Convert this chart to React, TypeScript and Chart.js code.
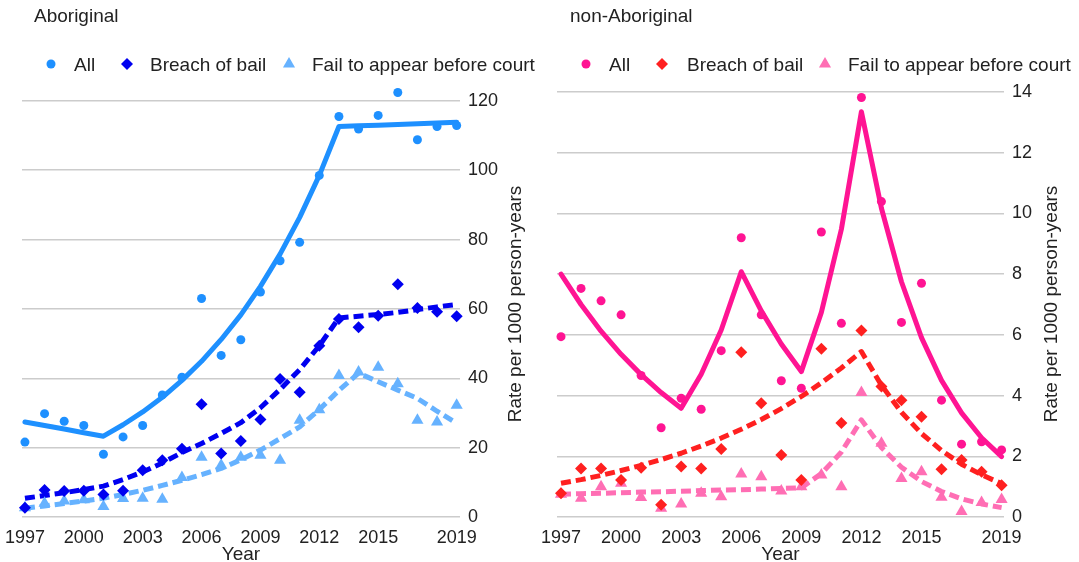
import React, { useEffect, useRef } from 'react';
import { Chart, registerables } from 'chart.js';

Chart.register(...registerables);

const YEARS = [1997, 1998, 1999, 2000, 2001, 2002, 2003, 2004, 2005, 2006, 2007, 2008, 2009, 2010, 2011, 2012, 2013, 2014, 2015, 2016, 2017, 2018, 2019];
const X_TICKS = [1997, 2000, 2003, 2006, 2009, 2012, 2015, 2019];
const LEGEND_LABELS = ['All', 'Breach of bail', 'Fail to appear before court'];
const Y_TITLE = 'Rate per 1000 person-years';
const X_TITLE = 'Year';

// Aboriginal
const ABO_Y_TICKS = [0, 20, 40, 60, 80, 100, 120];
const ABO_ALL = [21.6, 29.8, 27.6, 26.4, 18.1, 23.1, 26.4, 35.2, 40.3, 63.0, 46.6, 51.1, 64.9, 73.9, 79.2, 98.5, 115.5, 111.9, 115.8, 122.4, 108.8, 112.6, 112.9];
const ABO_BREACH = [2.7, 7.8, 7.5, 7.6, 6.5, 7.6, 13.5, 16.4, 19.7, 32.5, 18.3, 21.9, 28.1, 39.8, 36.0, 49.4, 57.1, 54.7, 58.0, 67.1, 60.3, 59.2, 57.9];
const ABO_FAIL = [2.7, 4.0, 4.6, 5.0, 3.0, 5.3, 5.4, 5.1, 11.4, 17.2, 14.9, 17.2, 17.8, 16.4, 27.9, 30.9, 40.8, 41.8, 43.2, 38.4, 27.9, 27.4, 32.2];
const ABO_ALL_TREND = [27.4, 26.4, 25.4, 24.3, 23.3, 26.6, 30.3, 34.5, 39.4, 44.9, 51.2, 58.3, 66.5, 75.8, 86.4, 98.5, 112.6, 112.8, 113.0, 113.2, 113.4, 113.6, 113.8];
const ABO_BREACH_TREND = [5.4, 6.2, 7.0, 7.9, 8.9, 10.8, 13.0, 15.6, 18.6, 21.2, 24.1, 27.2, 31.5, 36.8, 42.5, 49.4, 57.4, 57.9, 58.4, 59.0, 59.8, 60.6, 61.3];
const ABO_FAIL_TREND = [2.5, 3.2, 3.9, 4.6, 5.4, 6.5, 7.7, 9.1, 10.6, 12.2, 14.0, 16.5, 19.3, 22.6, 26.0, 31.0, 36.5, 41.5, 39.0, 36.6, 34.2, 30.5, 27.0];

// non-Aboriginal
const NON_Y_TICKS = [0, 2, 4, 6, 8, 10, 12, 14];
const NON_ALL = [5.94, 7.53, 7.12, 6.66, 4.66, 2.94, 3.91, 3.55, 5.48, 9.2, 6.66, 4.49, 4.24, 9.39, 6.38, 13.82, 10.39, 6.41, 7.7, 3.85, 2.4, 2.48, 2.21];
const NON_BREACH = [0.78, 1.6, 1.6, 1.22, 1.62, 0.4, 1.66, 1.6, 2.24, 5.43, 3.75, 2.04, 1.22, 5.54, 3.1, 6.14, 4.3, 3.85, 3.3, 1.57, 1.88, 1.49, 1.05];
const NON_FAIL = [0.75, 0.62, 1.0, 1.11, 0.64, 0.29, 0.43, 0.78, 0.67, 1.42, 1.33, 0.86, 1.0, 1.38, 1.0, 4.1, 2.43, 1.27, 1.49, 0.65, 0.18, 0.48, 0.58];
const NON_ALL_TREND = [8.0, 7.0, 6.12, 5.36, 4.69, 4.1, 3.58, 4.7, 6.16, 8.08, 6.79, 5.7, 4.79, 6.74, 9.48, 13.35, 10.17, 7.75, 5.91, 4.5, 3.43, 2.61, 1.99];
const NON_BREACH_TREND = [1.11, 1.23, 1.37, 1.53, 1.7, 1.89, 2.1, 2.34, 2.6, 2.89, 3.21, 3.57, 3.97, 4.42, 4.91, 5.45, 4.34, 3.45, 2.75, 2.19, 1.74, 1.39, 1.1];
const NON_FAIL_TREND = [0.75, 0.77, 0.78, 0.8, 0.82, 0.83, 0.85, 0.87, 0.89, 0.9, 0.92, 0.94, 0.96, 1.43, 2.14, 3.2, 2.29, 1.64, 1.17, 0.84, 0.6, 0.43, 0.31];

const FONT = "Arial, 'Liberation Sans', sans-serif";
const TEXT = '#222222';
const GRID = '#cccccc';
const STYLES = ['circle', 'rectRot', 'triangle'];
const RADII = [4.5, 6, 7];

type PanelCfg = {
  title: string;
  left: number;
  width: number;
  colors: string[];
  series: number[][];
  trends: number[][];
  yTicks: number[];
  yMax: number;
  xMin: number;
  xMax: number;
  pad: { left: number; top: number };
  yAxisWidth: number;
  titleX: number;
  legend: number[][];
  yTitleX: number;
};

const PANELS: PanelCfg[] = [
  {
    title: 'Aboriginal',
    left: 0,
    width: 540,
    colors: ['#1E90FF', '#0000F0', '#66B2FF'],
    series: [ABO_ALL, ABO_BREACH, ABO_FAIL],
    trends: [ABO_ALL_TREND, ABO_BREACH_TREND, ABO_FAIL_TREND],
    yTicks: ABO_Y_TICKS,
    yMax: 124,
    xMin: 1996.85,
    xMax: 2019.17,
    pad: { left: 22, top: 87 },
    yAxisWidth: 80,
    titleX: 34,
    legend: [[51, 74], [127, 150], [289, 312]],
    yTitleX: 521,
  },
  {
    title: 'non-Aboriginal',
    left: 540,
    width: 539,
    colors: ['#FF1493', '#FF2020', '#FF6EB4'],
    series: [NON_ALL, NON_BREACH, NON_FAIL],
    trends: [NON_ALL_TREND, NON_BREACH_TREND, NON_FAIL_TREND],
    yTicks: NON_Y_TICKS,
    yMax: 14,
    xMin: 1996.8,
    xMax: 2019.12,
    pad: { left: 17, top: 92 },
    yAxisWidth: 75,
    titleX: 30,
    legend: [[46, 69], [122, 147], [285, 308]],
    yTitleX: 517,
  },
];

function drawMarker(ctx: CanvasRenderingContext2D, style: string, x: number, y: number, r: number, color: string) {
  ctx.fillStyle = color;
  ctx.beginPath();
  if (style === 'circle') {
    ctx.arc(x, y, r, 0, Math.PI * 2);
  } else if (style === 'rectRot') {
    ctx.moveTo(x, y - r);
    ctx.lineTo(x + r, y);
    ctx.lineTo(x, y + r);
    ctx.lineTo(x - r, y);
    ctx.closePath();
  } else {
    const h = r * 1.5;
    const w = r * Math.sqrt(3) / 2;
    ctx.moveTo(x, y - r);
    ctx.lineTo(x + w, y - r + h);
    ctx.lineTo(x - w, y - r + h);
    ctx.closePath();
  }
  ctx.fill();
}

function Panel({ cfg }: { cfg: PanelCfg }) {
  const ref = useRef<HTMLCanvasElement>(null);
  useEffect(() => {
    const canvas = ref.current;
    if (!canvas) return;
    const toXY = (arr: number[]) => YEARS.map((yr, i) => ({ x: yr, y: arr[i] }));
    const pointSets = cfg.series.map((s, i) => ({
      label: LEGEND_LABELS[i],
      data: toXY(s),
      showLine: false,
      pointStyle: STYLES[i],
      pointRadius: RADII[i],
      pointHoverRadius: RADII[i],
      pointBackgroundColor: cfg.colors[i],
      pointBorderWidth: 0,
      backgroundColor: cfg.colors[i],
      borderColor: cfg.colors[i],
      borderWidth: 0,
      clip: false as any,
    }));
    const trendSets = cfg.trends.map((s, i) => ({
      label: LEGEND_LABELS[i] + ' trend',
      data: toXY(s),
      showLine: true,
      pointRadius: 0,
      pointHoverRadius: 0,
      borderColor: cfg.colors[i],
      backgroundColor: cfg.colors[i],
      borderWidth: 5,
      borderDash: i === 0 ? [] : [10, 5],
      borderCapStyle: i === 0 ? 'round' : 'butt',
      borderJoinStyle: 'round',
      tension: 0,
      fill: false,
      clip: false as any,
    }));
    const overlay = {
      id: 'overlay',
      afterDraw(chart: any) {
        const ctx: CanvasRenderingContext2D = chart.ctx;
        const ca = chart.chartArea;
        ctx.save();
        ctx.font = `19px ${FONT}`;
        ctx.fillStyle = TEXT;
        ctx.textAlign = 'left';
        ctx.textBaseline = 'alphabetic';
        ctx.fillText(cfg.title, cfg.titleX, 22);
        cfg.legend.forEach(([mx, tx], i) => {
          drawMarker(ctx, STYLES[i], mx, 64, RADII[i], cfg.colors[i]);
          ctx.fillStyle = TEXT;
          ctx.fillText(LEGEND_LABELS[i], tx, 71);
        });
        ctx.textAlign = 'center';
        ctx.fillText(X_TITLE, (ca.left + ca.right) / 2, 560);
        ctx.translate(cfg.yTitleX, 304);
        ctx.rotate(-Math.PI / 2);
        ctx.fillText(Y_TITLE, 0, 0);
        ctx.restore();
      },
    };
    const chart = new Chart(canvas, {
      type: 'line',
      data: { datasets: [...pointSets, ...trendSets] as any },
      options: {
        animation: false,
        responsive: false,
        devicePixelRatio: 1,
        events: [],
        layout: { padding: { left: cfg.pad.left, top: cfg.pad.top, right: 0, bottom: 0 } },
        plugins: { legend: { display: false }, title: { display: false }, tooltip: { enabled: false } },
        scales: {
          x: {
            type: 'linear',
            min: cfg.xMin,
            max: cfg.xMax,
            afterBuildTicks: (s: any) => {
              s.ticks = X_TICKS.map((v) => ({ value: v }));
            },
            afterFit: (s: any) => {
              s.height = 45;
              s.paddingLeft = 0;
              s.paddingRight = 0;
            },
            grid: { display: false, drawTicks: false },
            border: { display: false },
            ticks: {
              autoSkip: false,
              maxRotation: 0,
              minRotation: 0,
              padding: 10,
              color: TEXT,
              font: { size: 18, family: FONT },
              callback: (v: any) => String(v),
            },
          },
          y: {
            type: 'linear',
            position: 'right',
            min: 0,
            max: cfg.yMax,
            afterBuildTicks: (s: any) => {
              s.ticks = cfg.yTicks.map((v) => ({ value: v }));
            },
            afterFit: (s: any) => {
              s.width = cfg.yAxisWidth;
              s.paddingTop = 0;
              s.paddingBottom = 0;
            },
            grid: { color: GRID, lineWidth: 1.5, drawTicks: false },
            border: { display: false },
            ticks: {
              padding: 8,
              color: TEXT,
              font: { size: 18, family: FONT },
              callback: (v: any) => String(v),
            },
          },
        },
      } as any,
      plugins: [overlay],
    });
    return () => chart.destroy();
  }, [cfg]);
  return (
    <canvas
      ref={ref}
      width={cfg.width}
      height={562}
      style={{ position: 'absolute', left: cfg.left, top: 0, width: cfg.width, height: 562 }}
    />
  );
}

export default function App() {
  return (
    <div style={{ position: 'fixed', left: 0, top: 0, width: 1079, height: 562, background: '#ffffff', overflow: 'hidden' }}>
      {PANELS.map((p) => (
        <Panel key={p.title} cfg={p} />
      ))}
    </div>
  );
}
